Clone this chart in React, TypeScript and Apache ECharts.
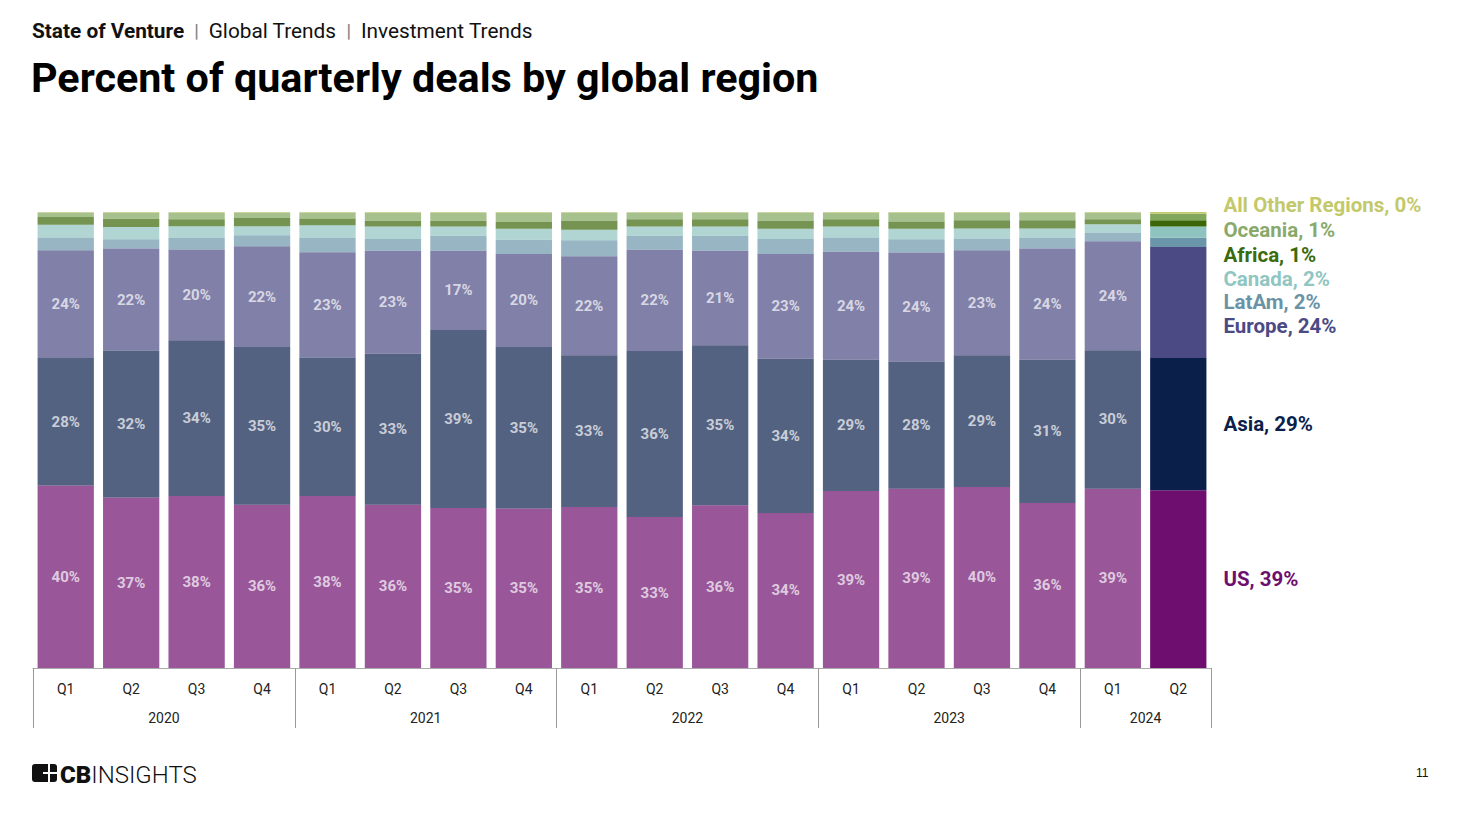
import React, { useEffect, useRef } from "react";
import * as echarts from "echarts";

const quarters = ["Q1","Q2","Q3","Q4","Q1","Q2","Q3","Q4","Q1","Q2","Q3","Q4","Q1","Q2","Q3","Q4","Q1","Q2"];
const yearLabels = ["2020", "2021", "2022", "2023", "2024"];
const yearSpans = [4, 4, 4, 4, 2];

const us = [40.0, 37.4, 37.7, 35.8, 37.7, 35.8, 35.1, 35.0, 35.3, 33.1, 35.7, 34.0, 38.8, 39.3, 39.7, 36.2, 39.3, 39.0];
const asia = [28.0, 32.2, 34.2, 34.6, 30.4, 33.1, 39.0, 35.4, 33.3, 36.4, 35.1, 33.8, 28.8, 27.9, 28.9, 31.4, 30.4, 29.0];
const europe = [23.6, 22.4, 19.9, 22.1, 23.1, 22.6, 17.4, 20.4, 21.7, 22.2, 20.7, 23.0, 23.7, 23.9, 23.0, 24.4, 23.9, 24.3];
const latam = [2.8, 2.0, 2.5, 2.4, 3.1, 2.6, 3.3, 3.1, 3.5, 3.1, 3.3, 3.3, 3.1, 2.9, 2.6, 2.3, 1.8, 2.1];
const canada = [2.8, 2.7, 2.6, 2.0, 2.8, 2.7, 2.0, 2.4, 2.3, 2.0, 2.0, 2.2, 2.4, 2.3, 2.2, 2.1, 1.9, 2.4];
const africa = [1.7, 1.8, 1.5, 1.8, 1.5, 1.3, 1.3, 1.5, 2.0, 1.6, 1.6, 1.8, 1.6, 1.6, 1.8, 1.8, 1.1, 1.4];
const oceania = [1.0, 1.4, 1.5, 1.2, 1.3, 1.8, 1.8, 2.1, 1.8, 1.5, 1.5, 1.8, 1.5, 2.0, 1.7, 1.7, 1.5, 1.4];
const other = [0.1, 0.1, 0.1, 0.1, 0.1, 0.1, 0.1, 0.1, 0.1, 0.1, 0.1, 0.1, 0.1, 0.1, 0.1, 0.1, 0.1, 0.4];

const seriesNames = ["US", "Asia", "Europe", "LatAm", "Canada", "Africa", "Oceania", "All Other Regions"];
const seriesData = [us, asia, europe, latam, canada, africa, oceania, other];
const seriesColors = ["#6e0f6f", "#0b1f4b", "#4b4a85", "#6b95a8", "#8ec3bf", "#3b6608", "#80a75c", "#c2c968"];
const labelColors = ["#6e0f6f", "#0b1f4b", "#4b4a85", "#6b93a6", "#90c6c2", "#3a6a0c", "#89a96a", "#c3c96a"];
const innerLabel = [true, true, true, false, false, false, false, false];
// layout: target y of right-side labels
const endLabelY = [579, 424, 326, 302, 279, 255, 230, 205];

const PLOT_TOP = 212;
const PLOT_H = 456;
const FONT = "Roboto, 'Noto Sans', sans-serif";

export default function App() {
  const ref = useRef<HTMLDivElement>(null);
  useEffect(() => {
    if (!ref.current) return;
    const chart = echarts.init(ref.current, null, { renderer: "svg" });
    const last = quarters.length - 1;

    const bounds: number[] = [0];
    const centers: number[] = [];
    let acc = 0;
    yearSpans.forEach((s) => {
      centers.push(acc + s / 2);
      acc += s;
      bounds.push(acc);
    });

    const series = seriesData.map((arr, si) => {
      return {
        name: seriesNames[si],
        type: "bar",
        stack: "total",
        barWidth: "86%",
        xAxisIndex: 0,
        yAxisIndex: 0,
        data: arr.map((v, i) => {
          const isLast = i === last;
          let below = 0;
          for (let k = 0; k < si; k++) below += seriesData[k][i];
          const center = PLOT_TOP + PLOT_H - ((below + v / 2) / 100) * PLOT_H;
          const item: any = {
            value: v,
            itemStyle: { color: seriesColors[si], opacity: isLast ? 1 : 0.7 },
          };
          if (isLast) {
            item.label = {
              show: true,
              position: "right",
              distance: 17,
              offset: [0, endLabelY[si] - center],
              formatter: () => `${seriesNames[si]}, ${Math.round(v)}%`,
              color: labelColors[si],
              fontSize: 20.5,
              fontWeight: "bold",
              fontFamily: FONT,
            };
          } else if (innerLabel[si]) {
            item.label = {
              show: true,
              position: "inside",
              formatter: () => `${Math.round(v)}%`,
              color: "#ffffff",
              fontSize: 15,
              fontWeight: "bold",
              fontFamily: FONT,
            };
          } else {
            item.label = { show: false };
          }
          return item;
        }),
      };
    });

    chart.setOption({
      animation: false,
      backgroundColor: "#ffffff",
      title: [
        {
          left: 27,
          top: 15,
          padding: 5,
          text: "{b|State of Venture}{s||}{r|Global Trends}{s||}{r|Investment Trends}",
          textStyle: {
            rich: {
              b: { fontSize: 20.8, fontWeight: "bold", color: "#111", fontFamily: FONT },
              r: { fontSize: 20.8, fontWeight: "normal", color: "#111", fontFamily: FONT },
              s: { fontSize: 18, color: "#888", padding: [0, 10], fontFamily: FONT },
            },
          },
        },
        {
          left: 26,
          top: 52,
          padding: 5,
          text: "Percent of quarterly deals by global region",
          textStyle: { fontSize: 41.3, fontWeight: "bold", color: "#000", fontFamily: FONT },
        },
      ],
      grid: { left: 33, right: 269, top: PLOT_TOP, bottom: 816 - PLOT_TOP - PLOT_H, containLabel: false },
      xAxis: [
        {
          type: "category",
          data: quarters,
          position: "bottom",
          axisLine: { show: true, lineStyle: { color: "#aaaaaa", width: 1 } },
          axisTick: { show: false },
          axisLabel: { color: "#222", fontSize: 14, margin: 14, fontFamily: FONT, interval: 0 },
          splitLine: { show: false },
        },
        {
          type: "value",
          min: 0,
          max: quarters.length,
          position: "bottom",
          axisLine: { show: false },
          splitLine: { show: false },
          axisTick: {
            show: true,
            length: 60,
            customValues: bounds,
            lineStyle: { color: "#999999", width: 1 },
          },
          axisLabel: {
            show: true,
            customValues: centers,
            margin: 43,
            color: "#222",
            fontSize: 14,
            fontFamily: FONT,
            formatter: (val: number) => {
              const idx = centers.findIndex((c) => Math.abs(c - val) < 1e-6);
              return idx >= 0 ? yearLabels[idx] : "";
            },
          },
        },
      ],
      yAxis: {
        type: "value",
        min: 0,
        max: 100,
        show: false,
        splitLine: { show: false },
      },
      series,
      graphic: [
        { type: "rect", left: 32, top: 764, shape: { width: 25, height: 18, r: 3 }, style: { fill: "#111" } },
        { type: "rect", left: 43, top: 772, shape: { width: 14, height: 2 }, style: { fill: "#fff" } },
        { type: "rect", left: 48, top: 764, shape: { width: 2, height: 18 }, style: { fill: "#fff" } },
        {
          type: "text",
          left: 60,
          top: 763,
          style: {
            text: "{b|CB}{l|INSIGHTS}",
            rich: {
              b: { fontSize: 24, fontWeight: 900, fill: "#111", fontFamily: FONT },
              l: { fontSize: 24, fontWeight: 300, fill: "#111", fontFamily: FONT },
            },
          },
        },
        {
          type: "text",
          left: 1416,
          top: 767,
          style: { text: "11", fontSize: 12, fill: "#111", fontFamily: "'Liberation Sans', Arial, sans-serif" },
        },
      ],
    });
    return () => chart.dispose();
  }, []);
  return <div ref={ref} style={{ position: "absolute", left: 0, top: 0, width: 1480, height: 816 }} />;
}
